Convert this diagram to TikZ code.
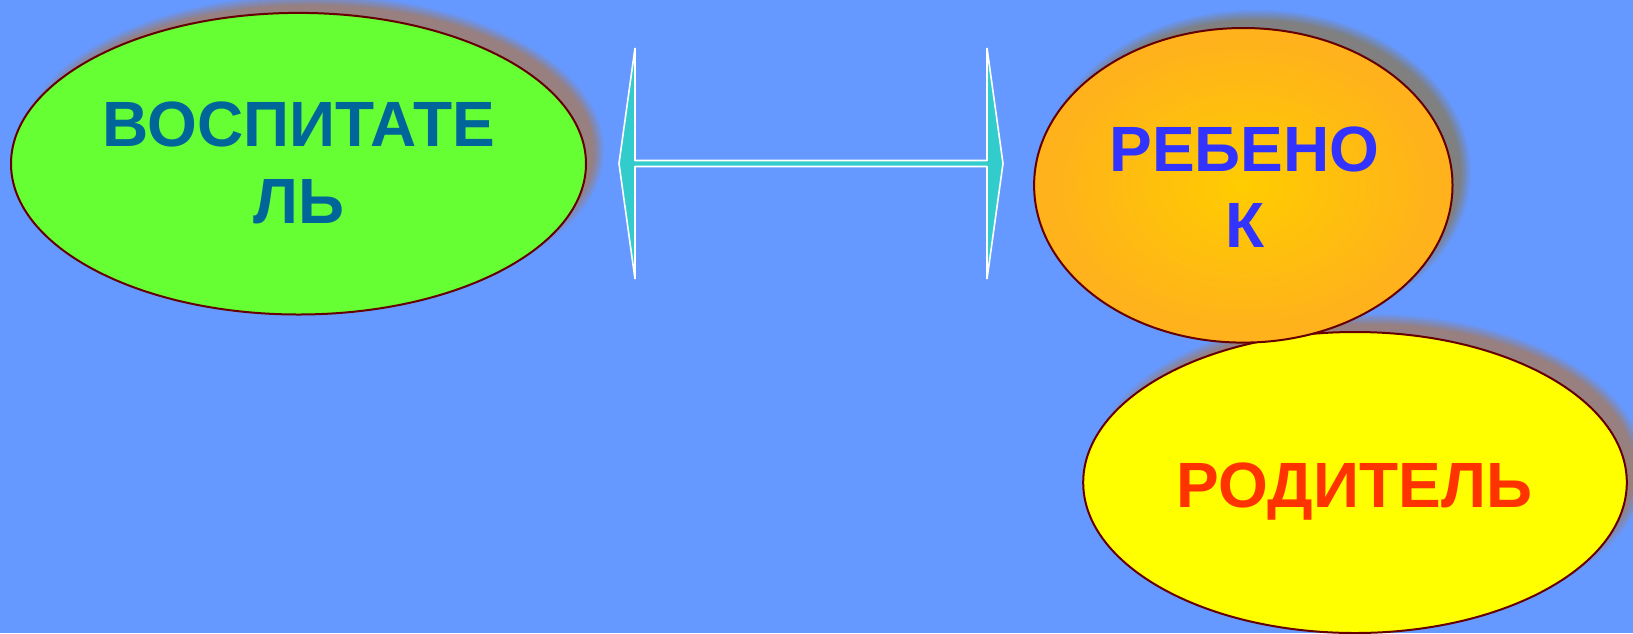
\documentclass[tikz,border=0pt]{standalone}
\usepackage{fontspec}
\setmainfont{Liberation Sans}
\usetikzlibrary{shapes.geometric}
\definecolor{bg}{HTML}{6699FF}
\definecolor{outl}{HTML}{660000}
\definecolor{greenfill}{HTML}{66FF33}
\definecolor{yellowfill}{HTML}{FFFF00}
\definecolor{orA}{HTML}{FFCC00}
\definecolor{orM}{HTML}{FFB31A}
\definecolor{orB}{HTML}{FFA626}
\definecolor{shmauve}{HTML}{988080}
\definecolor{shgray}{HTML}{808080}
\definecolor{arrowfill}{HTML}{33CCCC}
\definecolor{txtblue}{HTML}{006699}
\definecolor{txtviolet}{HTML}{3333FF}
\definecolor{txtred}{HTML}{FF3300}
\pgfdeclareradialshading{orangeglow}{\pgfpoint{0bp}{0bp}}{color(0bp)=(orA); color(22bp)=(orM); color(50bp)=(orB); color(100bp)=(orB)}
\newcommand{\softshadow}[5]{%
  \foreach \i in {1,...,12}{%
    \fill[#5, opacity={1/(13-\i)}] ({#1+13},{#2-13}) ellipse ({#3+6.5-\i} and {#4+6.5-\i});
  }%
}
\tikzset{
  bubble/.style={ellipse, draw=outl, line width=2pt, inner sep=0pt},
  word/.style={font=\bfseries\fontsize{64}{77}\selectfont, inner sep=0pt, anchor=base},
  dblarrow/.style={fill=arrowfill, draw=white, line width=1.6pt, line join=bevel}
}
\begin{document}
\begin{tikzpicture}[x=1pt, y=-1pt]
\useasboundingbox (0,0) rectangle (1633,633);
\fill[bg] (0,0) rectangle (1633,633);

% teacher
\softshadow{298.5}{163.7}{287.5}{150.8}{shmauve}
\node[bubble, fill=greenfill, minimum width=575pt, minimum height=301.6pt] (teacher) at (298.5,163.7) {};

% double arrow
\coordinate (aL) at (619,163.5);
\coordinate (aR) at (1003,163.5);
\draw[dblarrow] (aL) -- (635,48) -- (635,160.5) -- (987,160.5) -- (987,48) -- (aR)
  -- (987,279) -- (987,166.5) -- (635,166.5) -- (635,279) -- cycle;

% parent
\softshadow{1355}{482.5}{271.8}{150.5}{shmauve}
\node[bubble, fill=yellowfill, minimum width=543.6pt, minimum height=301pt] (parent) at (1355,482.5) {};

% child
\softshadow{1243.3}{185.3}{209.2}{157.3}{shgray}
\node[bubble, shading=orangeglow, minimum width=418.4pt, minimum height=314.6pt] (child) at (1243.3,185.3) {};

% texts
\node[word, text=txtblue] (t1) at (298.9,146.9) {ВОСПИТАТЕ};
\node[word, text=txtblue] (t2) at (298.9,223.9) {ЛЬ};
\node[word, text=txtviolet] (c1) at (1244.6,171.8) {РЕБЕНО};
\node[word, text=txtviolet] (c2) at (1244.6,247.9) {К};
\node[word, text=txtred] (p1) at (1354.5,507.2) {РОДИТЕЛЬ};
\end{tikzpicture}
\end{document}
